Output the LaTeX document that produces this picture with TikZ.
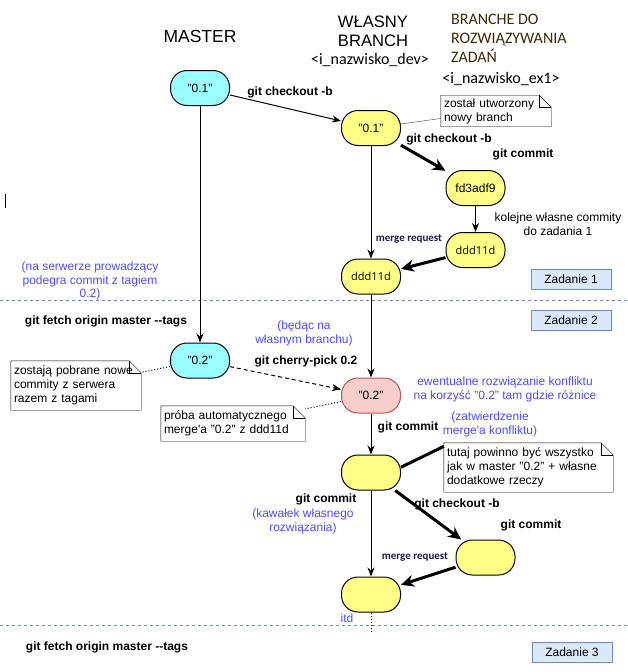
\documentclass[tikz,border=0pt]{standalone}
\usepackage{fontspec}
\setmainfont{Liberation Sans}
\newfontfamily\calibri{Carlito}
\newfontfamily\opensans{Open Sans}
\usetikzlibrary{arrows.meta}
\definecolor{cyanfill}{HTML}{99FFFF}
\definecolor{yellowfill}{HTML}{FFFF88}
\definecolor{pinkfill}{HTML}{F8CECC}
\definecolor{pinkdraw}{HTML}{B85450}
\definecolor{taskfill}{HTML}{DAE8FC}
\definecolor{taskdraw}{HTML}{6C8EBF}
\definecolor{bluetext}{HTML}{4D4DFF}
\definecolor{branchtext}{HTML}{3A2A0A}
\definecolor{mergetext}{HTML}{1A1A4D}
\newcommand{\notefold}[1]{%
  \draw (#1.north west) -- ([xshift=-12pt]#1.north east) -- ([yshift=-12pt]#1.north east) -- (#1.south east) -- (#1.south west) -- cycle;
  \draw ([xshift=-12pt]#1.north east) |- ([yshift=-12pt]#1.north east);}

\begin{document}
\begin{tikzpicture}[x=1pt,y=-1pt,
    commit/.style={draw,line width=1pt,rounded corners=16.5pt,minimum width=59pt,minimum height=35pt,inner sep=0pt,font=\fontsize{12}{14}\selectfont},
    mastercommit/.style={commit,fill=cyanfill},
    devcommit/.style={commit,fill=yellowfill},
    conflict/.style={commit,fill=pinkfill,draw=pinkdraw},
    hashfont/.style={font=\opensans\fontsize{11}{13}\selectfont},
    gitcmd/.style={font=\fontsize{12}{14}\selectfont\bfseries},
    remark/.style={text=bluetext,align=center,font=\fontsize{12}{13.8}\selectfont},
    notebox/.style={fill=white,align=left,inner sep=3pt,font=\fontsize{12}{14}\selectfont},
    task/.style={draw=taskdraw,fill=taskfill,line width=1pt,minimum width=80pt,minimum height=20pt,font=\fontsize{12}{14}\selectfont},
    mergelbl/.style={text=mergetext,font=\calibri\fontsize{11}{13}\selectfont\bfseries},
    branchlbl/.style={text=branchtext,font=\calibri\fontsize{16}{19}\selectfont},
    separator/.style={draw=taskdraw,line width=1pt,dash pattern=on 3pt off 3pt},
    link/.style={draw,line width=1pt,-{Stealth[length=9pt,width=7pt]}},
    boldlink/.style={draw,line width=3pt,-{Stealth[length=13pt,width=12pt]}}]
  \useasboundingbox (0,0) rectangle (627,672);
  \draw[separator] (0,300) -- (627,300);
  \draw[separator] (0,625) -- (627,625);
  \draw (5,194) -- (5,208);

  \node[font=\fontsize{17.5}{20}\selectfont] (master) at (200,36) {MASTER};
  \node[align=center,font=\fontsize{16.6}{19}\selectfont] (own) at (373,31) {WŁASNY\\BRANCH};
  \node[branchlbl,text=black] (ownname) at (370,60) {<i\_nazwisko\_dev>};
  \node[branchlbl,anchor=west,align=left,inner sep=0pt] (tasks) at (451,38) {BRANCHE DO\\ROZWIĄZYWANIA\\ZADAŃ};
  \node[branchlbl,text=black] (taskname) at (501,79) {<i\_nazwisko\_ex1>};

  \node[mastercommit] (m1) at (200,88) {"0.1"};
  \node[mastercommit] (m2) at (200,360.5) {"0.2"};
  \node[devcommit] (d1) at (371,128) {"0.1"};
  \node[devcommit,hashfont] (d2) at (371,276.5) {ddd11d};
  \node[conflict] (d3) at (371,395.5) {"0.2"};
  \node[devcommit] (d4) at (371,472.5) {};
  \node[devcommit] (d5) at (371,594.5) {};
  \node[devcommit] (f1) at (475.5,188) {fd3adf9};
  \node[devcommit,hashfont] (f2) at (475.5,250) {ddd11d};
  \node[devcommit] (f3) at (485.5,557.5) {};

  \node[task] (z1) at (571,279) {Zadanie 1};
  \node[task] (z2) at (571,320) {Zadanie 2};
  \node[task] (z3) at (572,652) {Zadanie 3};

  \node[notebox,text width=104pt,minimum height=30pt] (n1) at (496,111) {został utworzony\\nowy branch};
  \node[notebox,text width=124pt,minimum height=49pt] (n2) at (76,385.5) {zostają pobrane nowe\\commity z serwera\\razem z tagami};
  \node[notebox,text width=138pt,minimum height=35pt] (n3) at (233,423.5) {próba automatycznego\\merge\textquotesingle a "0.2" z ddd11d};
  \node[notebox,text width=163pt,minimum height=49pt] (n4) at (528.5,467.5) {tutaj powinno być wszystko\\jak w master "0.2" + własne\\dodatkowe rzeczy};
  \notefold{n1}
  \notefold{n2}
  \notefold{n3}
  \notefold{n4}

  \begin{scope}[every edge/.style={link}]
    \path (m1) edge (d1);
    \path (m1) edge (m2);
    \path (d1) edge (d2);
    \path (d1) edge[boldlink] (f1);
    \path (f1) edge (f2);
    \path (f2) edge[boldlink] (d2);
    \path (d2) edge (d3);
    \path (m2) edge[dash pattern=on 4pt off 3pt] (d3);
    \path (d3) edge (d4);
    \path (d4) edge (d5);
    \path (d4) edge[boldlink] (f3);
    \path (f3) edge[boldlink] (d5);
  \end{scope}
  \draw[black!75] (d1) -- (n1);
  \draw[dotted,line width=1pt] (m2) -- (n2);
  \draw[dotted,line width=1pt] (d3) -- (n3);
  \draw[line width=3pt] (d4.10) -- (n4.166);
  \coordinate (tail) at (371,633);
  \draw[dotted,line width=1pt] (d5) -- (tail);

  \node[gitcmd] (co1) at (290,92) {git checkout -b};
  \node[gitcmd] (co2) at (449,139) {git checkout -b};
  \node[gitcmd] (ci1) at (523,154) {git commit};
  \node[align=center,font=\fontsize{12}{14}\selectfont] (more) at (558,224) {kolejne własne commity\\do zadania 1};
  \node[mergelbl] (mr1) at (409,239) {merge request};
  \node[remark] (server) at (90,281) {(na serwerze prowadzący\\podegra commit z tagiem\\0.2)};
  \node[gitcmd] (fetch1) at (106,321) {git fetch origin master -{}-tags};
  \node[remark] (onown) at (304,333) {(będąc na\\własnym branchu)};
  \node[gitcmd] (pick) at (306,361) {git cherry-pick 0.2};
  \node[remark] (resolve) at (505,389) {ewentualne rozwiązanie konfliktu\\na korzyść "0.2" tam gdzie różnice};
  \node[gitcmd] (ci2) at (408,427) {git commit};
  \node[remark] (approve) at (490,424.5) {(zatwierdzenie\\merge\textquotesingle a konfliktu)};
  \node[gitcmd] (ci3) at (326,499) {git commit};
  \node[remark] (part) at (303,521) {(kawałek własnego\\rozwiązania)};
  \node[gitcmd] (co3) at (457,504) {git checkout -b};
  \node[gitcmd] (ci4) at (531,525) {git commit};
  \node[mergelbl] (mr2) at (415,557) {merge request};
  \node[remark] (etc) at (347,618) {itd};
  \node[gitcmd] (fetch2) at (107,647) {git fetch origin master -{}-tags};
\end{tikzpicture}
\end{document}
